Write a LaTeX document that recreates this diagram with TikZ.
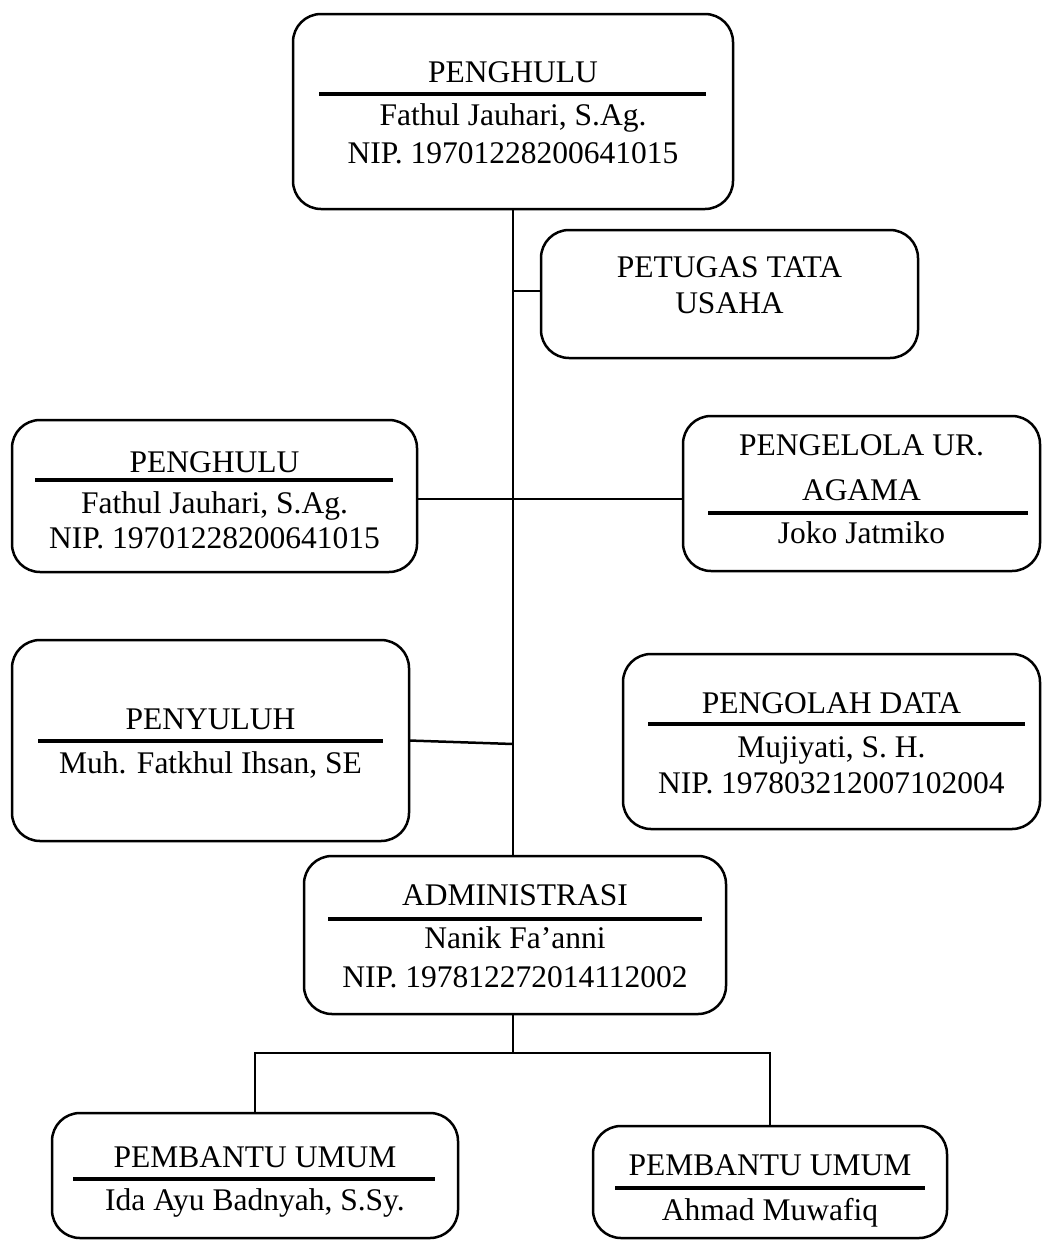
\documentclass[tikz,border=0pt]{standalone}
\usepackage{fontspec}
\setmainfont{Liberation Serif}
\begin{document}
\begin{tikzpicture}[x=1pt,y=-1pt,
  box/.style={draw, line width=2.5pt, rounded corners=28pt, inner sep=0pt, outer sep=0pt},
  txt/.style={anchor=base, inner sep=0pt, font=\fontsize{31.5}{38}\selectfont},
  rulel/.style={line width=3.6pt},
  conn/.style={line width=2.5pt},
  thin/.style={line width=1.1pt}]
\useasboundingbox (0,0) rectangle (1042,1240);
% boxes
\node[box, minimum width=440pt, minimum height=195pt] (top) at (513,111.5) {};
\node[box, minimum width=377pt, minimum height=128pt] (petugas) at (729.5,294) {};
\node[box, minimum width=405pt, minimum height=152pt] (penghulu) at (214.5,496) {};
\node[box, minimum width=357pt, minimum height=155pt] (pengelola) at (861.5,493.5) {};
\node[box, minimum width=397pt, minimum height=201pt] (penyuluh) at (210.5,740.5) {};
\node[box, minimum width=417pt, minimum height=175pt] (pengolah) at (831.5,741.5) {};
\node[box, minimum width=422pt, minimum height=158pt] (admin) at (515,935) {};
\node[box, minimum width=406pt, minimum height=125pt] (pemb1) at (255,1175.5) {};
\node[box, minimum width=354pt, minimum height=112pt] (pemb2) at (770,1182) {};
% texts
\node[txt] (topa) at (513,82) {PENGHULU};
\node[txt] (topb) at (513,125) {Fathul Jauhari, S.Ag.};
\node[txt] (topc) at (513,163) {NIP. 19701228200641015};
\draw[rulel] (319,94) -- (706,94);
\node[txt] (peta) at (729.5,277) {PETUGAS TATA};
\node[txt] (petb) at (729.5,313) {USAHA};
\node[txt] (pga) at (214.5,472) {PENGHULU};
\node[txt] (pgb) at (214.5,513) {Fathul Jauhari, S.Ag.};
\node[txt] (pgc) at (214.5,548) {NIP. 19701228200641015};
\draw[rulel] (35,480) -- (393,480);
\node[txt] (pla) at (861.5,455) {PENGELOLA UR.};
\node[txt] (plb) at (861.5,500) {AGAMA};
\node[txt] (plc) at (861.5,543) {Joko Jatmiko};
\draw[rulel] (708,513) -- (1028,513);
\node[txt] (pya) at (210.5,729) {PENYULUH};
\node[txt] (pyb) at (210.5,773) {Muh. Fatkhul Ihsan, SE};
\draw[rulel] (38,741) -- (383,741);
\node[txt] (poa) at (831.5,713) {PENGOLAH DATA};
\node[txt] (pob) at (831.5,757) {Mujiyati, S. H.};
\node[txt] (poc) at (831.5,793) {NIP. 197803212007102004};
\draw[rulel] (648,724) -- (1025,724);
\node[txt] (ada) at (515,905) {ADMINISTRASI};
\node[txt] (adb) at (515,948) {Nanik Fa’anni};
\node[txt] (adc) at (515,987) {NIP. 197812272014112002};
\draw[rulel] (328,919) -- (702,919);
\node[txt] (p1a) at (255,1167) {PEMBANTU UMUM};
\node[txt] (p1b) at (255,1210) {Ida Ayu Badnyah, S.Sy.};
\draw[rulel] (73,1179) -- (435,1179);
\node[txt] (p2a) at (770,1175) {PEMBANTU UMUM};
\node[txt] (p2b) at (770,1220) {Ahmad Muwafiq};
\draw[rulel] (615,1188) -- (925,1188);
% connectors
\coordinate (j1) at (513,291);
\coordinate (j2) at (513,499);
\coordinate (j3) at (513,744);
\coordinate (j4) at (513,1053);
\draw[conn] (top.south) -- (top.south |- admin.north);
\draw[conn] (j1) -- (j1 -| petugas.west);
\draw[conn] (penghulu.east |- j2) -- (pengelola.west |- j2);
\draw[conn] (penyuluh.east) -- (j3);
\draw[thin] (admin.south -| j4) -- (j4);
\draw[thin] (pemb1.north) |- (j4) -| (pemb2.north);
\end{tikzpicture}
\end{document}
